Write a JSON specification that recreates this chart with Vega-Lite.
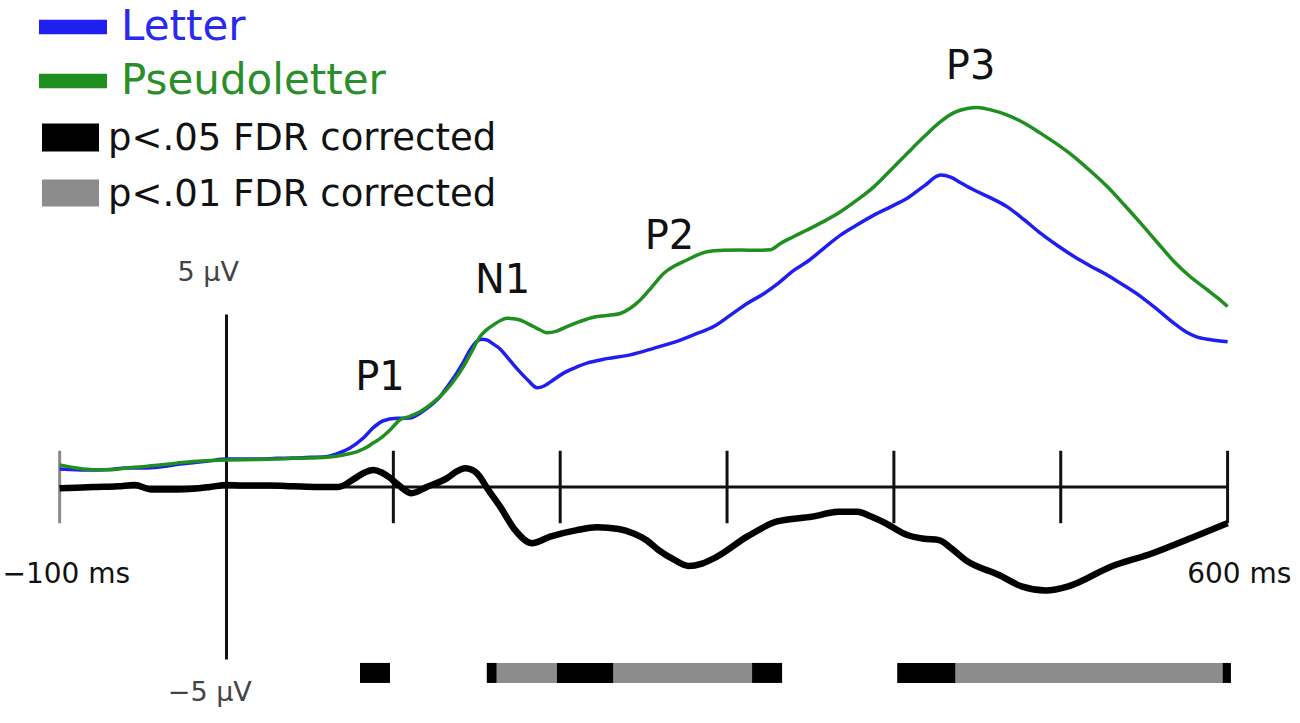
{
  "$schema": "https://vega.github.io/schema/vega-lite/v6.json",
  "width": 1300,
  "height": 723,
  "autosize": {"type": "none"},
  "padding": 0,
  "background": "white",
  "config": {"view": {"stroke": null}, "font": "DejaVu Sans", "axis": {"disable": true}},
  "datasets": {
    "waves": [
      {"series": "Letter", "t": -100, "v": 0.52}, {"series": "Letter", "t": -90, "v": 0.5}, {"series": "Letter", "t": -80, "v": 0.49}, {"series": "Letter", "t": -70, "v": 0.51}, {"series": "Letter", "t": -60, "v": 0.55}, {"series": "Letter", "t": -50, "v": 0.55}, {"series": "Letter", "t": -40, "v": 0.58}, {"series": "Letter", "t": -30, "v": 0.65}, {"series": "Letter", "t": -20, "v": 0.7}, {"series": "Letter", "t": -10, "v": 0.76}, {"series": "Letter", "t": 0, "v": 0.81}, {"series": "Letter", "t": 10, "v": 0.81}, {"series": "Letter", "t": 20, "v": 0.81}, {"series": "Letter", "t": 30, "v": 0.83}, {"series": "Letter", "t": 40, "v": 0.84}, {"series": "Letter", "t": 50, "v": 0.86}, {"series": "Letter", "t": 58, "v": 0.87}, {"series": "Letter", "t": 66, "v": 0.96}, {"series": "Letter", "t": 74, "v": 1.13}, {"series": "Letter", "t": 82, "v": 1.42}, {"series": "Letter", "t": 88, "v": 1.72}, {"series": "Letter", "t": 94, "v": 1.92}, {"series": "Letter", "t": 102, "v": 1.99}, {"series": "Letter", "t": 110, "v": 2.0}, {"series": "Letter", "t": 116, "v": 2.14}, {"series": "Letter", "t": 122, "v": 2.35}, {"series": "Letter", "t": 128, "v": 2.62}, {"series": "Letter", "t": 133, "v": 2.95}, {"series": "Letter", "t": 138, "v": 3.3}, {"series": "Letter", "t": 142, "v": 3.62}, {"series": "Letter", "t": 146, "v": 3.97}, {"series": "Letter", "t": 150, "v": 4.22}, {"series": "Letter", "t": 153, "v": 4.28}, {"series": "Letter", "t": 156, "v": 4.26}, {"series": "Letter", "t": 160, "v": 4.14}, {"series": "Letter", "t": 164, "v": 4.0}, {"series": "Letter", "t": 168, "v": 3.78}, {"series": "Letter", "t": 172, "v": 3.55}, {"series": "Letter", "t": 176, "v": 3.33}, {"series": "Letter", "t": 181, "v": 3.08}, {"series": "Letter", "t": 186, "v": 2.88}, {"series": "Letter", "t": 190, "v": 2.92}, {"series": "Letter", "t": 194, "v": 3.04}, {"series": "Letter", "t": 202, "v": 3.3}, {"series": "Letter", "t": 210, "v": 3.48}, {"series": "Letter", "t": 216, "v": 3.59}, {"series": "Letter", "t": 228, "v": 3.72}, {"series": "Letter", "t": 242, "v": 3.83}, {"series": "Letter", "t": 256, "v": 4.02}, {"series": "Letter", "t": 272, "v": 4.26}, {"series": "Letter", "t": 282, "v": 4.45}, {"series": "Letter", "t": 292, "v": 4.65}, {"series": "Letter", "t": 302, "v": 4.98}, {"series": "Letter", "t": 312, "v": 5.32}, {"series": "Letter", "t": 322, "v": 5.6}, {"series": "Letter", "t": 330, "v": 5.88}, {"series": "Letter", "t": 340, "v": 6.28}, {"series": "Letter", "t": 348, "v": 6.53}, {"series": "Letter", "t": 358, "v": 6.92}, {"series": "Letter", "t": 368, "v": 7.3}, {"series": "Letter", "t": 378, "v": 7.6}, {"series": "Letter", "t": 388, "v": 7.88}, {"series": "Letter", "t": 398, "v": 8.12}, {"series": "Letter", "t": 408, "v": 8.37}, {"series": "Letter", "t": 418, "v": 8.72}, {"series": "Letter", "t": 428, "v": 9.04}, {"series": "Letter", "t": 434, "v": 8.98}, {"series": "Letter", "t": 440, "v": 8.82}, {"series": "Letter", "t": 448, "v": 8.61}, {"series": "Letter", "t": 458, "v": 8.38}, {"series": "Letter", "t": 468, "v": 8.12}, {"series": "Letter", "t": 478, "v": 7.75}, {"series": "Letter", "t": 488, "v": 7.35}, {"series": "Letter", "t": 498, "v": 7.0}, {"series": "Letter", "t": 508, "v": 6.68}, {"series": "Letter", "t": 518, "v": 6.4}, {"series": "Letter", "t": 528, "v": 6.14}, {"series": "Letter", "t": 538, "v": 5.84}, {"series": "Letter", "t": 548, "v": 5.52}, {"series": "Letter", "t": 558, "v": 5.14}, {"series": "Letter", "t": 568, "v": 4.74}, {"series": "Letter", "t": 575, "v": 4.5}, {"series": "Letter", "t": 581, "v": 4.36}, {"series": "Letter", "t": 590, "v": 4.27}, {"series": "Letter", "t": 600, "v": 4.21},
      {"series": "Pseudoletter", "t": -100, "v": 0.64}, {"series": "Pseudoletter", "t": -90, "v": 0.55}, {"series": "Pseudoletter", "t": -80, "v": 0.5}, {"series": "Pseudoletter", "t": -70, "v": 0.5}, {"series": "Pseudoletter", "t": -60, "v": 0.55}, {"series": "Pseudoletter", "t": -50, "v": 0.59}, {"series": "Pseudoletter", "t": -40, "v": 0.64}, {"series": "Pseudoletter", "t": -30, "v": 0.69}, {"series": "Pseudoletter", "t": -20, "v": 0.74}, {"series": "Pseudoletter", "t": -10, "v": 0.77}, {"series": "Pseudoletter", "t": 0, "v": 0.78}, {"series": "Pseudoletter", "t": 10, "v": 0.79}, {"series": "Pseudoletter", "t": 20, "v": 0.8}, {"series": "Pseudoletter", "t": 30, "v": 0.81}, {"series": "Pseudoletter", "t": 40, "v": 0.83}, {"series": "Pseudoletter", "t": 50, "v": 0.84}, {"series": "Pseudoletter", "t": 60, "v": 0.86}, {"series": "Pseudoletter", "t": 70, "v": 0.93}, {"series": "Pseudoletter", "t": 78, "v": 1.02}, {"series": "Pseudoletter", "t": 84, "v": 1.15}, {"series": "Pseudoletter", "t": 88, "v": 1.28}, {"series": "Pseudoletter", "t": 92, "v": 1.4}, {"series": "Pseudoletter", "t": 98, "v": 1.65}, {"series": "Pseudoletter", "t": 104, "v": 1.95}, {"series": "Pseudoletter", "t": 110, "v": 2.05}, {"series": "Pseudoletter", "t": 116, "v": 2.18}, {"series": "Pseudoletter", "t": 122, "v": 2.38}, {"series": "Pseudoletter", "t": 128, "v": 2.62}, {"series": "Pseudoletter", "t": 135, "v": 3.0}, {"series": "Pseudoletter", "t": 142, "v": 3.49}, {"series": "Pseudoletter", "t": 147, "v": 3.93}, {"series": "Pseudoletter", "t": 152, "v": 4.36}, {"series": "Pseudoletter", "t": 156, "v": 4.56}, {"series": "Pseudoletter", "t": 160, "v": 4.7}, {"series": "Pseudoletter", "t": 164, "v": 4.82}, {"series": "Pseudoletter", "t": 168, "v": 4.89}, {"series": "Pseudoletter", "t": 172, "v": 4.88}, {"series": "Pseudoletter", "t": 176, "v": 4.84}, {"series": "Pseudoletter", "t": 180, "v": 4.75}, {"series": "Pseudoletter", "t": 184, "v": 4.65}, {"series": "Pseudoletter", "t": 188, "v": 4.55}, {"series": "Pseudoletter", "t": 192, "v": 4.47}, {"series": "Pseudoletter", "t": 198, "v": 4.52}, {"series": "Pseudoletter", "t": 204, "v": 4.65}, {"series": "Pseudoletter", "t": 212, "v": 4.8}, {"series": "Pseudoletter", "t": 220, "v": 4.92}, {"series": "Pseudoletter", "t": 228, "v": 4.97}, {"series": "Pseudoletter", "t": 236, "v": 5.03}, {"series": "Pseudoletter", "t": 242, "v": 5.18}, {"series": "Pseudoletter", "t": 248, "v": 5.42}, {"series": "Pseudoletter", "t": 255, "v": 5.8}, {"series": "Pseudoletter", "t": 262, "v": 6.19}, {"series": "Pseudoletter", "t": 269, "v": 6.42}, {"series": "Pseudoletter", "t": 276, "v": 6.58}, {"series": "Pseudoletter", "t": 282, "v": 6.72}, {"series": "Pseudoletter", "t": 288, "v": 6.82}, {"series": "Pseudoletter", "t": 298, "v": 6.86}, {"series": "Pseudoletter", "t": 308, "v": 6.87}, {"series": "Pseudoletter", "t": 318, "v": 6.86}, {"series": "Pseudoletter", "t": 326, "v": 6.88}, {"series": "Pseudoletter", "t": 332, "v": 7.06}, {"series": "Pseudoletter", "t": 340, "v": 7.26}, {"series": "Pseudoletter", "t": 348, "v": 7.45}, {"series": "Pseudoletter", "t": 358, "v": 7.7}, {"series": "Pseudoletter", "t": 368, "v": 7.98}, {"series": "Pseudoletter", "t": 378, "v": 8.32}, {"series": "Pseudoletter", "t": 388, "v": 8.7}, {"series": "Pseudoletter", "t": 398, "v": 9.18}, {"series": "Pseudoletter", "t": 408, "v": 9.67}, {"series": "Pseudoletter", "t": 418, "v": 10.15}, {"series": "Pseudoletter", "t": 428, "v": 10.59}, {"series": "Pseudoletter", "t": 436, "v": 10.85}, {"series": "Pseudoletter", "t": 444, "v": 10.97}, {"series": "Pseudoletter", "t": 450, "v": 11.0}, {"series": "Pseudoletter", "t": 458, "v": 10.93}, {"series": "Pseudoletter", "t": 468, "v": 10.78}, {"series": "Pseudoletter", "t": 478, "v": 10.55}, {"series": "Pseudoletter", "t": 488, "v": 10.25}, {"series": "Pseudoletter", "t": 498, "v": 9.93}, {"series": "Pseudoletter", "t": 508, "v": 9.57}, {"series": "Pseudoletter", "t": 518, "v": 9.15}, {"series": "Pseudoletter", "t": 528, "v": 8.7}, {"series": "Pseudoletter", "t": 538, "v": 8.18}, {"series": "Pseudoletter", "t": 548, "v": 7.64}, {"series": "Pseudoletter", "t": 558, "v": 7.08}, {"series": "Pseudoletter", "t": 568, "v": 6.53}, {"series": "Pseudoletter", "t": 578, "v": 6.08}, {"series": "Pseudoletter", "t": 588, "v": 5.71}, {"series": "Pseudoletter", "t": 594, "v": 5.48}, {"series": "Pseudoletter", "t": 600, "v": 5.23}
    ],
    "diff": [
      {"t": -100, "v": -0.04}, {"t": -90, "v": -0.02}, {"t": -78, "v": 0.0}, {"t": -65, "v": 0.02}, {"t": -55, "v": 0.06}, {"t": -45, "v": -0.07}, {"t": -30, "v": -0.07}, {"t": -20, "v": -0.05}, {"t": -10, "v": 0.0}, {"t": 0, "v": 0.06}, {"t": 10, "v": 0.04}, {"t": 26, "v": 0.04}, {"t": 40, "v": 0.02}, {"t": 55, "v": 0.0}, {"t": 67, "v": 0.0}, {"t": 76, "v": 0.22}, {"t": 82, "v": 0.4}, {"t": 88, "v": 0.49}, {"t": 93, "v": 0.42}, {"t": 97, "v": 0.3}, {"t": 103, "v": 0.06}, {"t": 111, "v": -0.18}, {"t": 120, "v": 0.0}, {"t": 132, "v": 0.25}, {"t": 138, "v": 0.45}, {"t": 143, "v": 0.54}, {"t": 147, "v": 0.5}, {"t": 150, "v": 0.4}, {"t": 157, "v": -0.09}, {"t": 164, "v": -0.57}, {"t": 173, "v": -1.25}, {"t": 183, "v": -1.63}, {"t": 194, "v": -1.44}, {"t": 210, "v": -1.25}, {"t": 222, "v": -1.17}, {"t": 235, "v": -1.22}, {"t": 244, "v": -1.35}, {"t": 252, "v": -1.55}, {"t": 259, "v": -1.83}, {"t": 268, "v": -2.1}, {"t": 277, "v": -2.29}, {"t": 285, "v": -2.22}, {"t": 294, "v": -2.02}, {"t": 312, "v": -1.44}, {"t": 330, "v": -1.0}, {"t": 351, "v": -0.86}, {"t": 367, "v": -0.72}, {"t": 378, "v": -0.72}, {"t": 386, "v": -0.85}, {"t": 395, "v": -1.05}, {"t": 408, "v": -1.39}, {"t": 418, "v": -1.5}, {"t": 427, "v": -1.54}, {"t": 435, "v": -1.8}, {"t": 443, "v": -2.12}, {"t": 463, "v": -2.55}, {"t": 477, "v": -2.89}, {"t": 491, "v": -3.0}, {"t": 505, "v": -2.87}, {"t": 530, "v": -2.31}, {"t": 555, "v": -1.92}, {"t": 580, "v": -1.44}, {"t": 600, "v": -1.05}
    ],
    "sig": [
      {"series": "p<.05 FDR corrected", "start": 80, "end": 98},
      {"series": "p<.05 FDR corrected", "start": 156, "end": 162},
      {"series": "p<.01 FDR corrected", "start": 162, "end": 198},
      {"series": "p<.05 FDR corrected", "start": 198, "end": 232},
      {"series": "p<.01 FDR corrected", "start": 232, "end": 315},
      {"series": "p<.05 FDR corrected", "start": 315, "end": 333},
      {"series": "p<.05 FDR corrected", "start": 402, "end": 437},
      {"series": "p<.01 FDR corrected", "start": 437, "end": 597},
      {"series": "p<.05 FDR corrected", "start": 597, "end": 602}
    ],
    "frame": [
      {"part": "zero", "t": -100, "t2": 600, "v": 0, "v2": 0},
      {"part": "yaxis", "t": 0, "t2": 0, "v": -5, "v2": 5}
    ],
    "ticks": [
      {"t": -100}, {"t": 100}, {"t": 200}, {"t": 300}, {"t": 400}, {"t": 500}, {"t": 600}
    ],
    "peaks": [
      {"label": "P1", "t": 92, "v": 3.16},
      {"label": "N1", "t": 165.5, "v": 5.97},
      {"label": "P2", "t": 265.5, "v": 7.25},
      {"label": "P3", "t": 446, "v": 12.17}
    ],
    "ylabels": [
      {"label": "5 µV", "t": -11, "v": 6.2},
      {"label": "−5 µV", "t": -10, "v": -5.97}
    ],
    "xlabels": [
      {"label": "−100 ms", "t": -96, "v": -2.55},
      {"label": "600 ms", "t": 607, "v": -2.55}
    ]
  },
  "layer": [
    {
      "data": {"name": "ticks"},
      "mark": {"type": "rule", "strokeWidth": 3},
      "encoding": {
        "x": {"field": "t", "type": "quantitative", "scale": {"domain": [-135.75, 643.4], "nice": false, "zero": false}, "axis": null},
        "y": {"datum": -1.05, "type": "quantitative", "scale": {"domain": [-6.841, 14.116], "nice": false, "zero": false}, "axis": null},
        "y2": {"datum": 1.05},
        "color": {"condition": {"test": "datum.t < 0", "value": "#8a8a8a"}, "value": "#111111"}
      }
    },
    {
      "data": {"name": "frame"},
      "mark": {"type": "rule", "strokeWidth": 3, "color": "#111111"},
      "encoding": {
        "x": {"field": "t", "type": "quantitative"},
        "x2": {"field": "t2"},
        "y": {"field": "v", "type": "quantitative"},
        "y2": {"field": "v2"}
      }
    },
    {
      "data": {"name": "waves"},
      "mark": {"type": "line", "strokeWidth": 3.5, "interpolate": "monotone"},
      "encoding": {
        "x": {"field": "t", "type": "quantitative"},
        "y": {"field": "v", "type": "quantitative"},
        "color": {
          "field": "series",
          "type": "nominal",
          "scale": {"domain": ["Letter", "Pseudoletter", "p<.05 FDR corrected", "p<.01 FDR corrected"], "range": ["#1f1fef", "#1f8f1f", "#000000", "#8c8c8c"]},
          "legend": {
            "title": null,
            "orient": "none",
            "legendX": 53,
            "legendY": 7,
            "direction": "vertical",
            "padding": 0,
            "symbolType": "M-1.7,-0.42H1.7V0.42H-1.7Z",
            "symbolSize": 1600,
            "symbolStrokeWidth": 0,
            "labelFont": "DejaVu Sans",
            "labelFontSize": 40,
            "labelOffset": 28,
            "labelLimit": 0,
            "rowPadding": 12,
            "encode": {
              "symbols": {"update": {
                "shape": {"signal": "datum.value === 'Letter' || datum.value === 'Pseudoletter' ? 'M-1.7,-0.36H1.7V0.36H-1.7Z' : datum.value === 'p<.05 FDR corrected' ? 'M-1.55,-0.52H1.3V0.88H-1.55Z' : 'M-1.55,-0.47H1.3V0.88H-1.55Z'"},
                "fill": {"signal": "scale('color', datum.value)"},
                "stroke": {"value": "transparent"},
                "strokeWidth": {"value": 0},
                "opacity": {"value": 1}
              }},
              "labels": {"update": {
                "fill": {"signal": "datum.value === 'Letter' ? '#2a2aee' : datum.value === 'Pseudoletter' ? '#2a8f2a' : '#111111'"},
                "fontSize": {"signal": "(datum.value === 'Letter' || datum.value === 'Pseudoletter') ? 42 : 37"},
                "dx": {"signal": "(datum.value === 'Letter' || datum.value === 'Pseudoletter') ? 0 : -13"},
                "dy": {"signal": "datum.value === 'p<.05 FDR corrected' ? 5 : datum.value === 'p<.01 FDR corrected' ? 6 : 0"}
              }}
            }
          }
        }
      }
    },
    {
      "data": {"name": "diff"},
      "mark": {"type": "line", "strokeWidth": 6.5, "color": "#000000", "interpolate": "monotone"},
      "encoding": {
        "x": {"field": "t", "type": "quantitative"},
        "y": {"field": "v", "type": "quantitative"}
      }
    },
    {
      "data": {"name": "sig"},
      "mark": {"type": "rect"},
      "encoding": {
        "x": {"field": "start", "type": "quantitative"},
        "x2": {"field": "end"},
        "y": {"datum": -5.1, "type": "quantitative"},
        "y2": {"datum": -5.68},
        "color": {"field": "series", "type": "nominal"}
      }
    },
    {
      "data": {"name": "peaks"},
      "mark": {"type": "text", "font": "DejaVu Sans", "fontSize": 40, "color": "#111111", "align": "center", "baseline": "middle"},
      "encoding": {
        "x": {"field": "t", "type": "quantitative"},
        "y": {"field": "v", "type": "quantitative"},
        "text": {"field": "label"}
      }
    },
    {
      "data": {"name": "ylabels"},
      "mark": {"type": "text", "font": "DejaVu Sans", "fontSize": 27, "color": "#444444", "align": "center", "baseline": "middle"},
      "encoding": {
        "x": {"field": "t", "type": "quantitative"},
        "y": {"field": "v", "type": "quantitative"},
        "text": {"field": "label"}
      }
    },
    {
      "data": {"name": "xlabels"},
      "mark": {"type": "text", "font": "DejaVu Sans", "fontSize": 28, "color": "#111111", "align": "center", "baseline": "middle"},
      "encoding": {
        "x": {"field": "t", "type": "quantitative"},
        "y": {"field": "v", "type": "quantitative"},
        "text": {"field": "label"}
      }
    }
  ]
}
